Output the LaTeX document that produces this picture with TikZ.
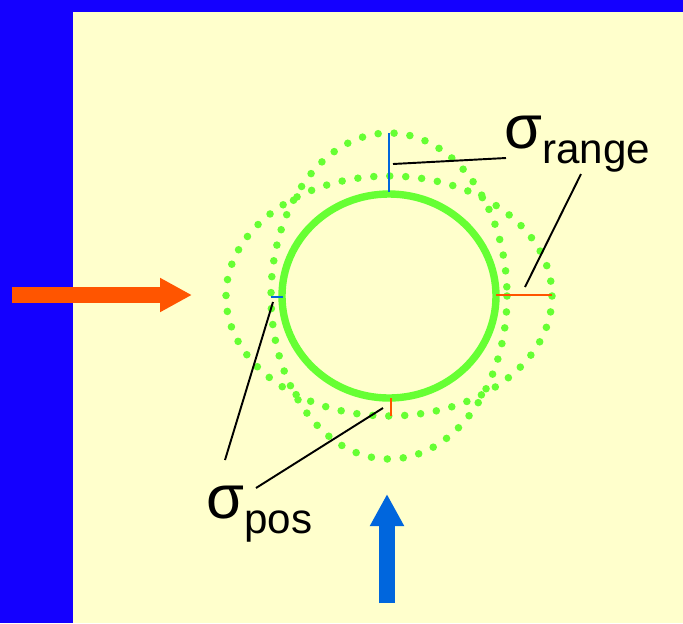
\documentclass[tikz,border=0pt]{standalone}
\usepackage{fontspec}
\setmainfont{Liberation Sans}
\usepackage{xcolor}
\usetikzlibrary{arrows.meta}
\definecolor{bandblue}{RGB}{20,0,255}
\definecolor{paper}{RGB}{255,255,204}
\definecolor{ringgreen}{RGB}{102,255,51}
\definecolor{qorange}{RGB}{255,85,0}
\definecolor{qblue}{RGB}{0,102,221}
\newcommand{\bigsig}{\fontsize{35}{35}\selectfont}
\newcommand{\subsig}{\fontsize{24}{24}\selectfont}

\begin{document}
\begin{tikzpicture}[x=0.02cm,y=-0.02cm,
  ring/.style={color=ringgreen,line width=4.2pt},
  dots/.style={color=ringgreen,line width=4.3pt,line cap=round,dash pattern=on 0pt off 9.1pt},
  tick/.style={line width=1.4pt},
  lead/.style={black,line width=1.1pt},
  bigarrow/.style={-{Triangle[length=0.64cm,width=0.64cm]},line width=0.32cm}]
  \useasboundingbox (0,0) rectangle (683,623);
  \def\cx{389}%
  \def\cy{296}%
  % background
  \fill[bandblue] (0,0) rectangle (683,623);
  \fill[paper] (73,12) rectangle (683,623);

  % object and the two error ellipses
  \draw[dots] (\cx,\cy) ellipse [x radius=163,y radius=120];
  \draw[dots] (\cx,\cy) ellipse [x radius=118,y radius=163];
  \draw[ring] (\cx,\cy) ellipse [x radius=107,y radius=102];

  % ticks
  \draw[tick,qblue] (\cx,133) -- (\cx,192);
  \draw[tick,qblue] (271,297) -- (283,297);
  \draw[tick,qorange] (496,295) -- (552,295);
  \draw[tick,qorange] (391,398) -- (391,416);

  % sensors
  \draw[bigarrow,qorange] (12,295) -- (192,295);
  \draw[bigarrow,qblue] (387,603) -- (387,494);

  % labels
  \node[anchor=base west,inner sep=0pt] (range) at (504,148) {\bigsig σ\lower9pt\hbox{\subsig range}};
  \node[anchor=base west,inner sep=0pt] (pos) at (206,518) {\bigsig σ\lower9pt\hbox{\subsig pos}};

  \coordinate (rangeA) at (506,158);
  \coordinate (rangeB) at (581,174);
  \coordinate (posA) at (225,460);
  \coordinate (posB) at (256,488);
  \coordinate (tickT) at (393,164);
  \coordinate (tickR) at (525,287);
  \coordinate (tickL) at (273,302);
  \coordinate (tickB) at (383,408);
  \draw[lead] (rangeA) -- (tickT);
  \draw[lead] (rangeB) -- (tickR);
  \draw[lead] (posA) -- (tickL);
  \draw[lead] (posB) -- (tickB);
\end{tikzpicture}
\end{document}
